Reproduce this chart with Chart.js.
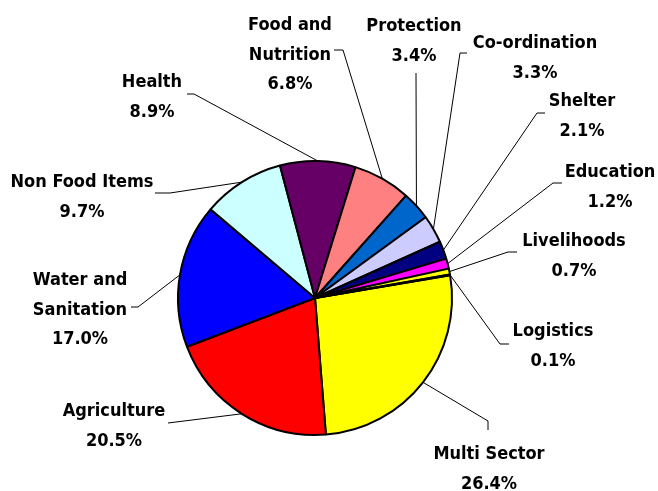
<!DOCTYPE html>
<html>
<head>
<meta charset="utf-8">
<script src="https://cdn.jsdelivr.net/npm/chart.js@4/dist/chart.umd.min.js"></script>
<style>
  html, body { margin: 0; padding: 0; background: #ffffff; }
  #wrap { width: 658px; height: 491px; position: relative; }
</style>
</head>
<body>
<div id="wrap"><canvas id="c"></canvas></div>
<script>
// ---- data ----
const categories = ['Multi Sector', 'Agriculture', 'Water and Sanitation', 'Non Food Items', 'Health',
  'Food and Nutrition', 'Protection', 'Co-ordination', 'Shelter', 'Education', 'Livelihoods', 'Logistics'];
const shares = [26.4, 20.5, 17.0, 9.7, 8.9, 6.8, 3.4, 3.3, 2.1, 1.2, 0.7, 0.1];
const labelLines = [['Multi Sector'], ['Agriculture'], ['Water and', 'Sanitation'], ['Non Food Items'], ['Health'],
  ['Food and', 'Nutrition'], ['Protection'], ['Co-ordination'], ['Shelter'], ['Education'], ['Livelihoods'], ['Logistics']];
const sliceColors = ['#FFFF00', '#FF0000', '#0000FF', '#CCFFFF', '#660066', '#FF8080', '#0066CC',
  '#CCCCFF', '#000080', '#FF00FF', '#FFFF00', '#00FFFF'];

// ---- label layout (text centre x, first baseline y, leader start points) ----
const labelLayout = [
  { x: 489, y: 459, lead: [[488, 430], [488, 421]] },
  { x: 114, y: 416, lead: [[168, 423]] },
  { x: 80,  y: 285, lead: [[131, 307], [138, 307]] },
  { x: 82,  y: 187, lead: [[155, 193], [170, 193]] },
  { x: 152, y: 87,  lead: [[187, 94], [194, 94]] },
  { x: 290, y: 30,  lead: [[334, 50], [343, 50]] },
  { x: 414, y: 31,  lead: [[416, 73]] },
  { x: 535, y: 48,  lead: [[467, 53], [460, 53]] },
  { x: 582, y: 106, lead: [[545, 113], [537, 113]] },
  { x: 610, y: 177, lead: [[562, 183], [553, 183]] },
  { x: 574, y: 246, lead: [[517, 252], [508, 252]] },
  { x: 553, y: 336, lead: [[509, 344], [500, 344]] }
];
const lineGap = 29.5;

const labelPlugin = {
  id: 'sliceLabels',
  afterDraw(chart) {
    const ctx = chart.ctx;
    const meta = chart.getDatasetMeta(0);
    ctx.save();
    ctx.font = 'bold 18px "DejaVu Sans"';
    if ('fontStretch' in ctx) ctx.fontStretch = 'condensed';
    ctx.fillStyle = '#000000';
    ctx.textAlign = 'center';
    ctx.textBaseline = 'alphabetic';
    meta.data.forEach((arc, i) => {
      const L = labelLayout[i];
      const p = arc.getProps(['x', 'y', 'startAngle', 'endAngle', 'outerRadius'], true);
      const mid = (p.startAngle + p.endAngle) / 2;
      const ex = p.x + Math.cos(mid) * p.outerRadius;
      const ey = p.y + Math.sin(mid) * p.outerRadius;
      ctx.beginPath();
      ctx.strokeStyle = '#000000';
      ctx.lineWidth = 1;
      ctx.moveTo(L.lead[0][0], L.lead[0][1]);
      for (let k = 1; k < L.lead.length; k++) ctx.lineTo(L.lead[k][0], L.lead[k][1]);
      ctx.lineTo(ex, ey);
      ctx.stroke();
      const lines = labelLines[i].concat([shares[i].toFixed(1) + '%']);
      lines.forEach((t, j) => ctx.fillText(t, L.x, L.y + j * lineGap));
    });
    ctx.restore();
  }
};

new Chart(document.getElementById('c'), {
  type: 'pie',
  data: {
    labels: categories,
    datasets: [{
      data: shares,
      backgroundColor: sliceColors,
      borderColor: '#000000',
      borderWidth: 2,
      hoverOffset: 0
    }]
  },
  options: {
    responsive: true,
    maintainAspectRatio: false,
    animation: false,
    rotation: 80.5,
    layout: { padding: { top: 160, bottom: 55, left: 177, right: 205 } },
    plugins: { legend: { display: false }, tooltip: { enabled: false } },
    events: []
  },
  plugins: [labelPlugin]
});
</script>
</body>
</html>
